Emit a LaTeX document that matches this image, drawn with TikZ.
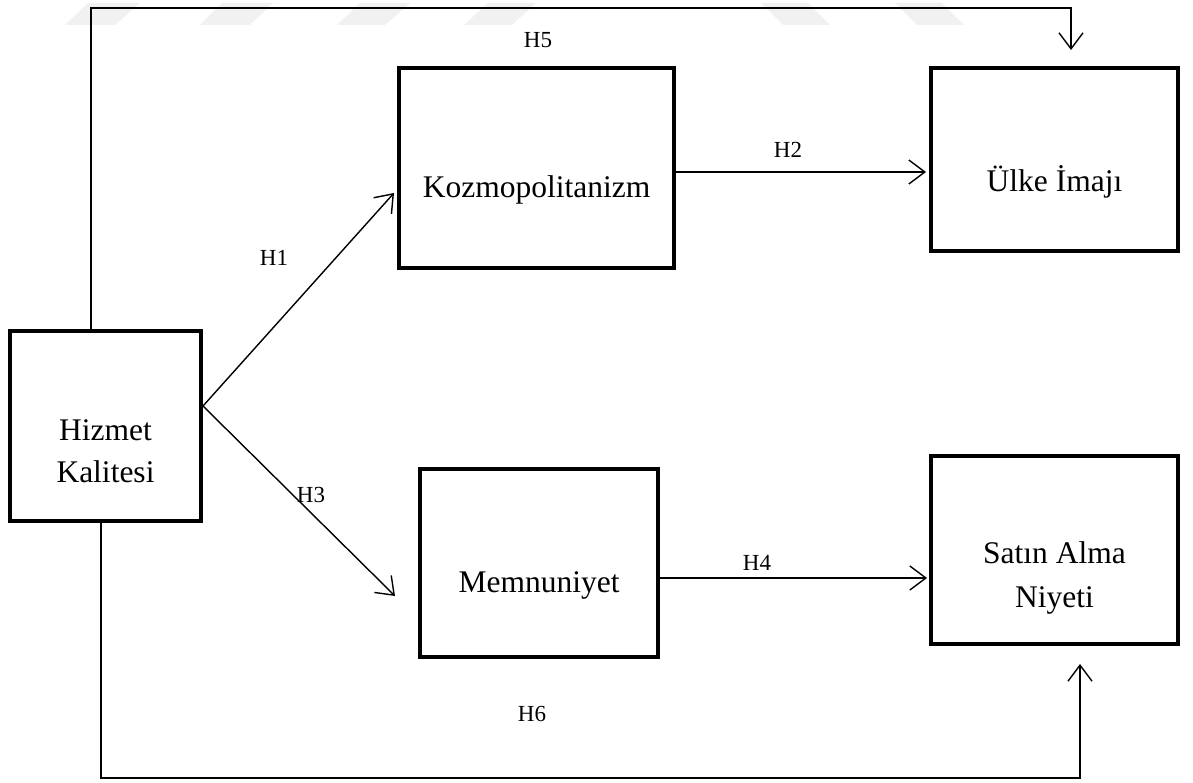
\documentclass[tikz,border=0pt]{standalone}
\usepackage{fontspec}
\setmainfont{Liberation Serif}
\usetikzlibrary{arrows.meta}
\definecolor{wm}{gray}{0.945}
\begin{document}
\begin{tikzpicture}[x=1pt,y=-1pt,
  box/.style={draw, line width=4pt, inner sep=0pt, fill=white},
  boxtxt/.style={anchor=base, inner sep=0pt, font=\fontsize{31.5}{40}\selectfont},
  hlab/.style={inner sep=0pt, font=\fontsize{23}{28}\selectfont},
  conn/.style={line width=1.4pt},
  arr/.style={line width=1.4pt, -{Straight Barb[length=16pt,width=24pt]}},
  wmark/.style={fill=wm, draw=none}]
\useasboundingbox (0,0) rectangle (1193,783);
% faint watermark
\fill[wmark] (65,25) -- (115,25) -- (140,3) -- (88,3) -- cycle;
\fill[wmark] (200,25) -- (250,25) -- (273,3) -- (222,3) -- cycle;
\fill[wmark] (337,25) -- (385,25) -- (410,3) -- (360,3) -- cycle;
\fill[wmark] (464,25) -- (512,25) -- (536,3) -- (488,3) -- cycle;
\fill[wmark] (761,3) -- (808,3) -- (830,25) -- (783,25) -- cycle;
\fill[wmark] (895,3) -- (942,3) -- (964,25) -- (917,25) -- cycle;
% boxes
\node[box, minimum width=191pt, minimum height=190pt] (hk) at (105.5,426) {};
\node[box, minimum width=275pt, minimum height=200pt] (kz) at (536.5,168) {};
\node[box, minimum width=247pt, minimum height=183pt] (ui) at (1054.5,159.5) {};
\node[box, minimum width=238pt, minimum height=188pt] (mn) at (539,563) {};
\node[box, minimum width=247pt, minimum height=188pt] (sa) at (1054.5,550) {};
% box texts
\node[boxtxt] (hk1) at (105.5,440) {Hizmet};
\node[boxtxt] (hk2) at (105.5,482) {Kalitesi};
\node[boxtxt] (kzt) at (536.5,198) {Kozmopolitanizm};
\node[boxtxt] (uit) at (1054.5,192) {Ülke İmajı};
\node[boxtxt] (mnt) at (539,592) {Memnuniyet};
\node[boxtxt] (sa1) at (1054.5,563) {Satın Alma};
\node[boxtxt] (sa2) at (1054.5,607) {Niyeti};
% connector end points
\coordinate (h5c1) at (91,8);
\coordinate (h5c2) at (1071,8);
\coordinate (h5end) at (1071,50);
\coordinate (h6c1) at (101,778);
\coordinate (h6c2) at (1080,778);
\coordinate (h6end) at (1080,664);
\coordinate (h1end) at (394,193);
\coordinate (h3end) at (395,596);
\coordinate (h2end) at (926,172);
\coordinate (h4end) at (927,578);
% connectors
\draw[arr] (hk.north -| h5c1) -- (h5c1) -- (h5c2) -- (h5end);
\draw[arr] (hk.south -| h6c1) -- (h6c1) -- (h6c2) -- (h6end);
\draw[arr] ([yshift=20pt]hk.east) -- (h1end);
\draw[arr] ([yshift=20pt]hk.east) -- (h3end);
\draw[arr] (kz.east |- h2end) -- (h2end);
\draw[arr] (mn.east |- h4end) -- (h4end);
% labels
\node[hlab] (H5) at (538,40) {H5};
\node[hlab] (H1) at (274,258) {H1};
\node[hlab] (H2) at (788,150) {H2};
\node[hlab] (H3) at (311,495) {H3};
\node[hlab] (H4) at (757,563) {H4};
\node[hlab] (H6) at (532,714) {H6};
\end{tikzpicture}
\end{document}
